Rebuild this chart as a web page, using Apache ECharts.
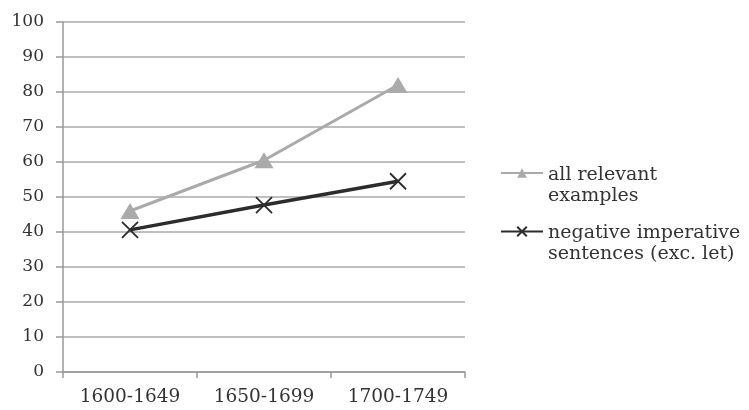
<!DOCTYPE html>
<html>
<head>
<meta charset="utf-8">
<script src="https://cdn.jsdelivr.net/npm/echarts@6/dist/echarts.min.js"></script>
<style>
  html, body { margin: 0; padding: 0; background: #fff; }
  #chart { width: 749px; height: 410px; }
</style>
</head>
<body>
<div id="chart"></div>
<script>
// Periods on the horizontal axis
const periods = ['1600-1649', '1650-1699', '1700-1749'];
// Percentages per period
const allRelevant = [46, 60.5, 82];
const negativeImperative = [40.6, 47.7, 54.5];
// Series names shown in the legend (two lines each)
const nameAll = 'all relevant\nexamples';
const nameNeg = 'negative imperative\nsentences (exc. let)';

const textFont = 'DejaVu Serif';
const textColor = '#333';

// Legend labels: a blank spacer line on top so the key line sits beside the first text line
function legendLabel(name) {
  return '{s| }\n' + name.split('\n').map(function (l) { return '{t|' + l + '}'; }).join('\n');
}

const chart = echarts.init(document.getElementById('chart'));
chart.setOption({
  backgroundColor: '#ffffff',
  animation: false,
  textStyle: { fontFamily: textFont },
  grid: { left: 63, top: 22, right: 284, bottom: 38 },
  legend: {
    orient: 'vertical',
    left: 495,
    top: 142,
    itemWidth: 42,
    itemHeight: 12,
    itemGap: 0,
    formatter: legendLabel,
    textStyle: {
      fontFamily: textFont, fontSize: 19, color: textColor,
      rich: {
        s: { lineHeight: 25, fontSize: 10 },
        t: { fontFamily: textFont, fontSize: 19, color: textColor, lineHeight: 21 }
      }
    },
    data: [nameAll, nameNeg]
  },
  xAxis: {
    type: 'category',
    data: periods,
    boundaryGap: true,
    axisLine: { lineStyle: { color: '#999', width: 1.5 } },
    axisTick: { show: true, length: 6, lineStyle: { color: '#999', width: 1.5 } },
    axisLabel: { fontFamily: textFont, fontSize: 18.5, color: textColor, margin: 16 }
  },
  yAxis: {
    type: 'value',
    min: 0,
    max: 100,
    interval: 10,
    axisLine: { show: true, lineStyle: { color: '#999', width: 1.5 } },
    axisTick: { show: true, length: 7, lineStyle: { color: '#999', width: 1.5 } },
    axisLabel: { fontFamily: textFont, fontSize: 17, color: textColor, margin: 19 },
    splitLine: { lineStyle: { color: '#aaa', width: 1.6 } }
  },
  series: [
    {
      name: nameAll,
      type: 'line',
      data: allRelevant,
      symbol: 'triangle',
      symbolSize: [19, 16],
      lineStyle: { color: '#aaaaaa', width: 3 },
      itemStyle: { color: '#aaaaaa' }
    },
    {
      name: nameNeg,
      type: 'line',
      data: negativeImperative,
      symbol: 'path://M0,0 L2,2 M2,0 L0,2',
      symbolSize: 16,
      lineStyle: { color: '#2c2c2c', width: 3.5 },
      itemStyle: { color: 'transparent', borderColor: '#2c2c2c', borderWidth: 1.8 }
    }
  ]
});
</script>
</body>
</html>
